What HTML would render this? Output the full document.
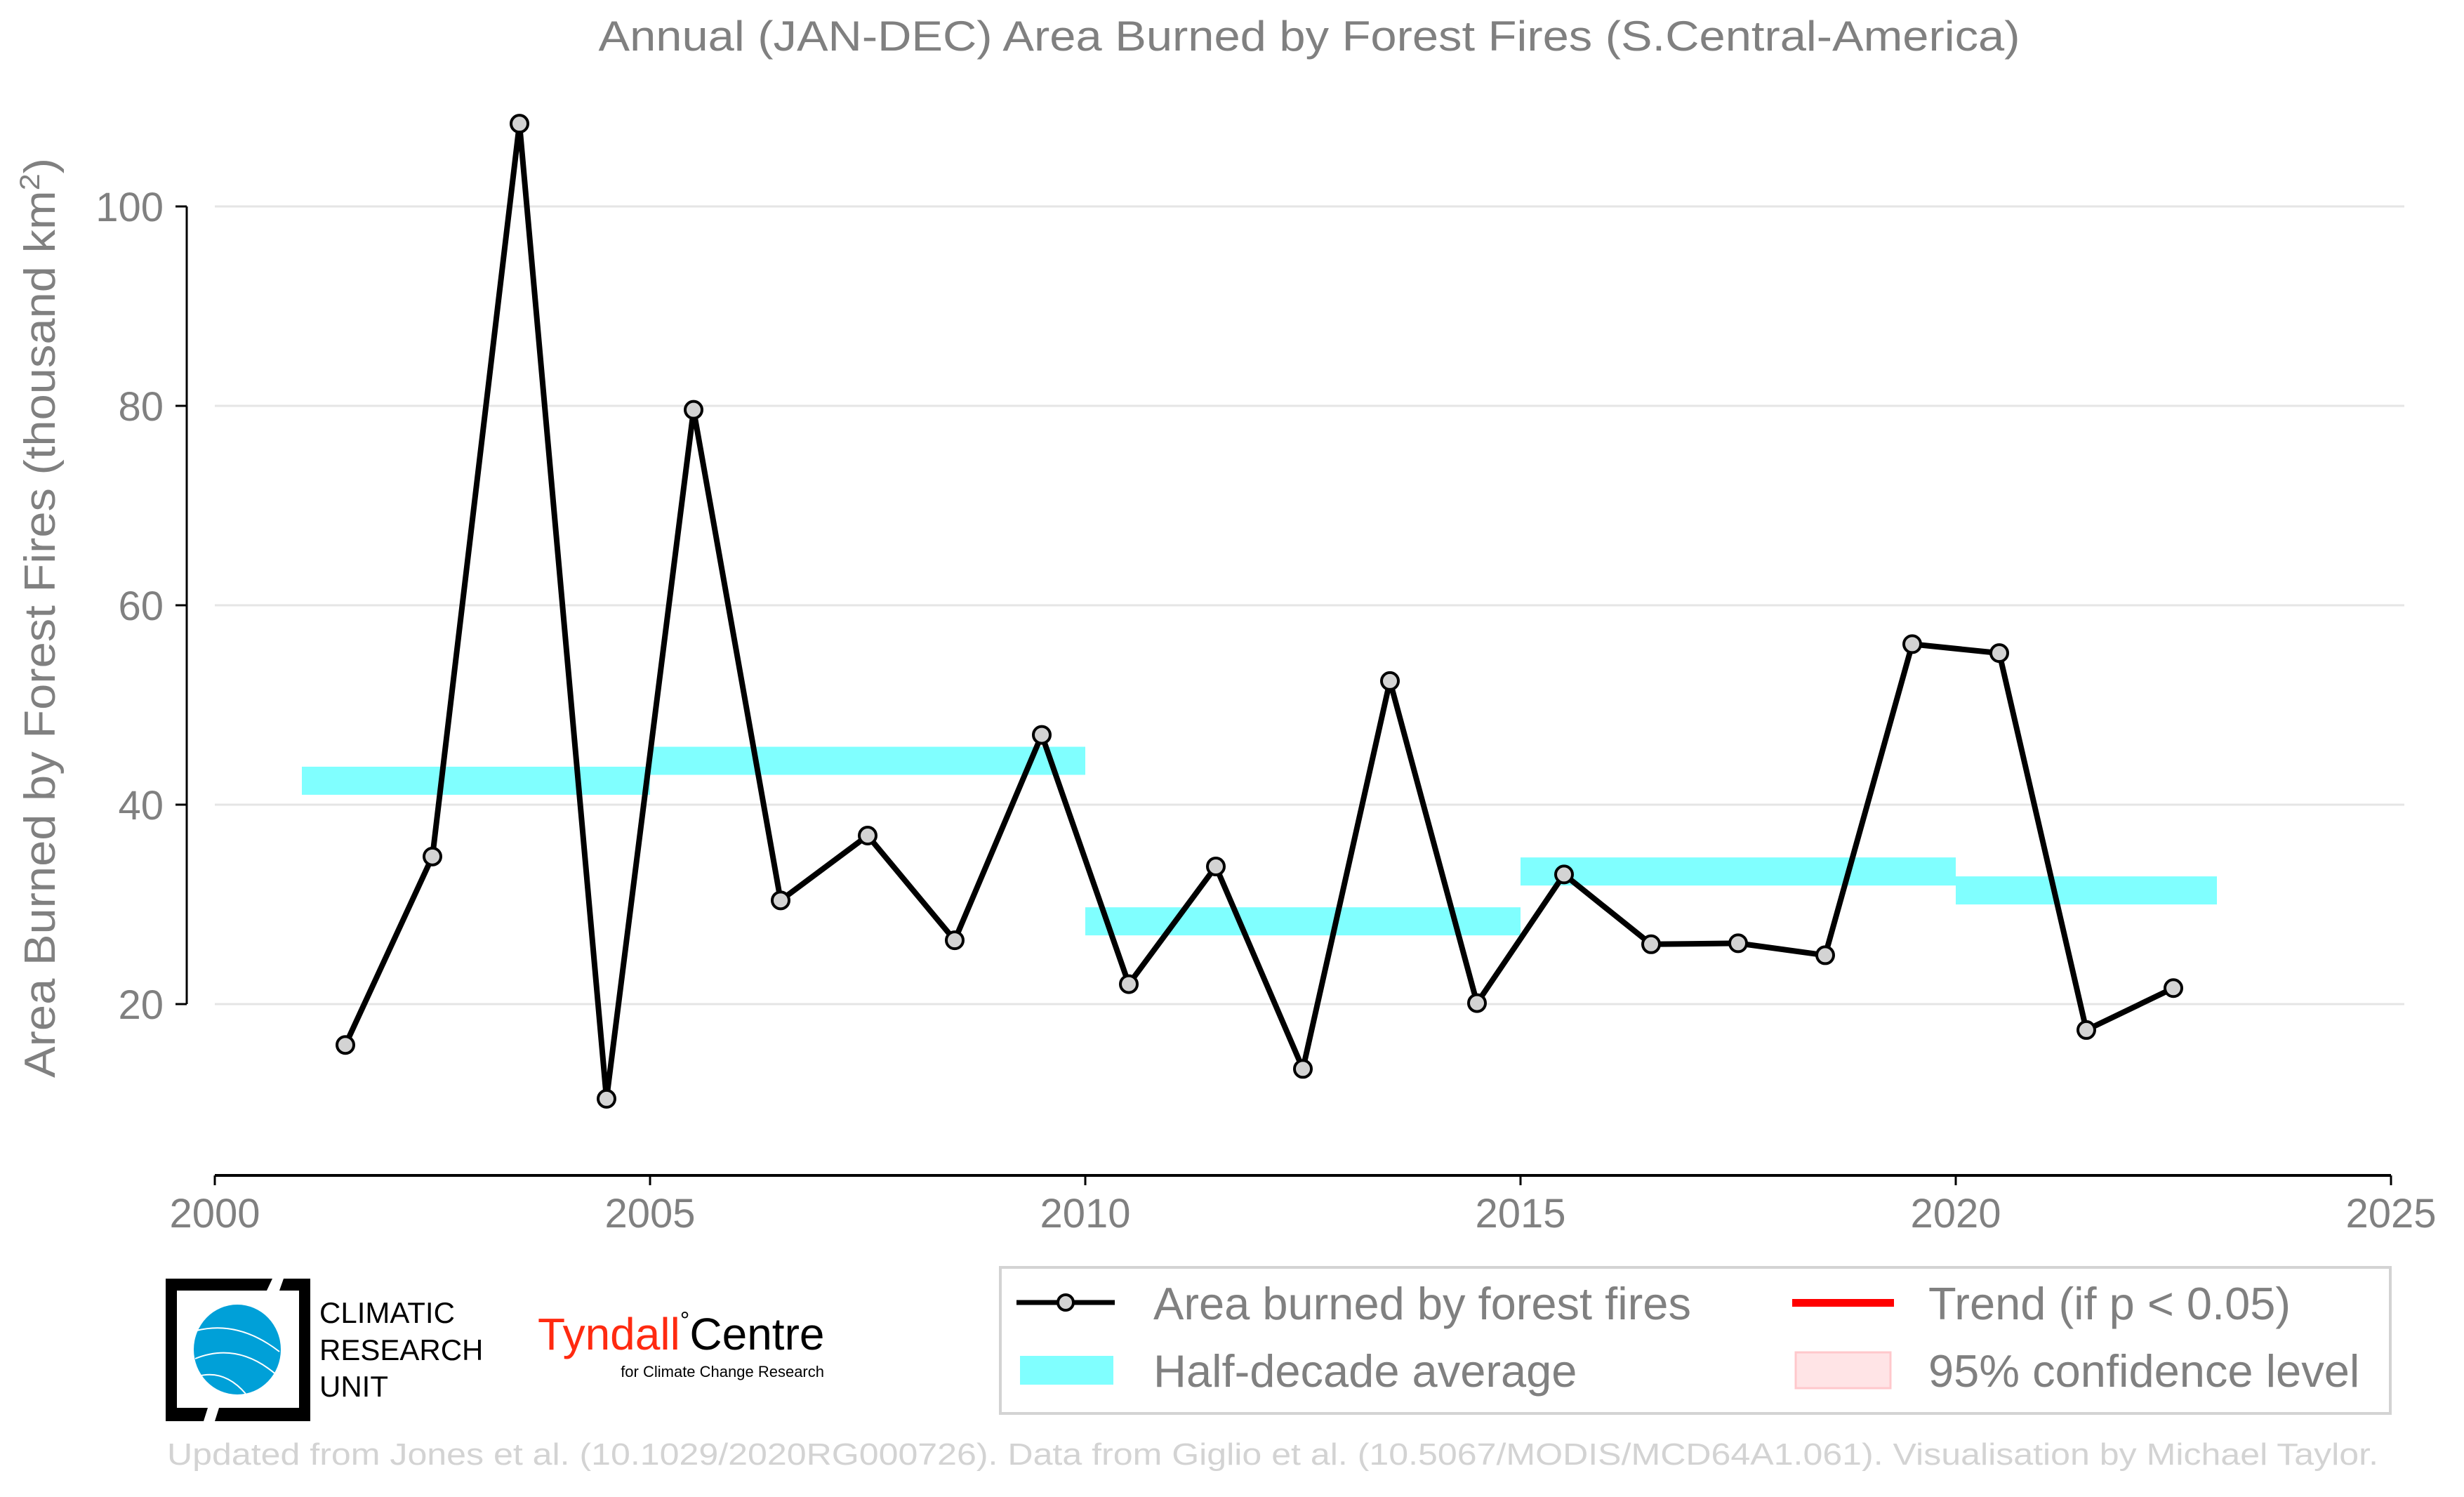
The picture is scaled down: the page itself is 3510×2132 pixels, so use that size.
<!DOCTYPE html>
<html><head><meta charset="utf-8"><style>
html,body{margin:0;padding:0;background:#fff;}
svg{display:block;font-family:"Liberation Sans",Arial,sans-serif;}
</style></head><body>
<svg id="chart" width="3510" height="2132" viewBox="0 0 3510 2132" xmlns="http://www.w3.org/2000/svg">
<text x="1865" y="72" text-anchor="middle" font-size="60" fill="#808080" textLength="2025" lengthAdjust="spacingAndGlyphs">Annual (JAN-DEC) Area Burned by Forest Fires (S.Central-America)</text>
<g id="grid"></g>
<g id="yaxis"></g>
<g id="xaxis"></g>
<text transform="translate(78,880) rotate(-90)" text-anchor="middle" font-size="62" fill="#808080" textLength="1310" lengthAdjust="spacingAndGlyphs">Area Burned by Forest Fires (thousand km<tspan dy="-22" font-size="40">2</tspan><tspan dy="22">)</tspan></text>
<g id="bars"></g>
<g id="series"></g>

<g>
<path d="M236,1821 H388 L380,1838 H252 V2005 H296 L290,2024 H236 Z" fill="#000"/>
<path d="M404,1821 H442 V2024 H306 L312,2005 H426 V1838 H398 Z" fill="#000"/>
<ellipse cx="338" cy="1922" rx="62" ry="64" fill="#00a0d8"/>
<path d="M280,1895 Q340,1880 398,1925 M278,1935 Q340,1910 396,1960 M282,1960 Q320,1950 350,1985" stroke="#fff" stroke-width="2" fill="none"/>
<text x="455" y="1884" font-size="42" fill="#000">CLIMATIC</text>
<text x="455" y="1937" font-size="42" fill="#000">RESEARCH</text>
<text x="455" y="1989" font-size="42" fill="#000">UNIT</text>
</g>
<g>
<text x="766" y="1922" font-size="64" fill="#ff2a10">Tyndall<tspan fill="#000" font-size="34" dy="-30">°</tspan><tspan fill="#000" dy="30">Centre</tspan></text>
<text x="1174" y="1961" text-anchor="end" font-size="22" fill="#000">for Climate Change Research</text>
</g>

<g>
<rect x="1425" y="1805" width="1980" height="208" fill="#fff" stroke="#d3d3d3" stroke-width="4"/>
<line x1="1448" y1="1855" x2="1588" y2="1855" stroke="#000" stroke-width="7"/>
<circle cx="1518" cy="1855" r="11" fill="#d3d3d3" stroke="#000" stroke-width="4"/>
<text x="1643" y="1879" font-size="65" fill="#808080">Area burned by forest fires</text>
<rect x="1453" y="1931" width="133" height="41" fill="#80ffff"/>
<text x="1643" y="1975" font-size="65" fill="#808080">Half-decade average</text>
<rect x="2553" y="1850" width="145" height="11" fill="#ff0000"/>
<text x="2747" y="1879" font-size="65" fill="#808080">Trend (if p &lt; 0.05)</text>
<rect x="2558" y="1926" width="135" height="51" fill="#ffe4e6" stroke="#ffc8cc" stroke-width="3"/>
<text x="2747" y="1975" font-size="65" fill="#808080">95% confidence level</text>
</g>
<text x="238" y="2086" font-size="44" fill="#d3d3d3" textLength="3150" lengthAdjust="spacingAndGlyphs">Updated from Jones et al. (10.1029/2020RG000726). Data from Giglio et al. (10.5067/MODIS/MCD64A1.061). Visualisation by Michael Taylor.</text>
</svg>
<script>
const years=[2001.5,2002.5,2003.5,2004.5,2005.5,2006.5,2007.5,2008.5,2009.5,2010.5,2011.5,2012.5,2013.5,2014.5,2015.5,2016.5,2017.5,2018.5,2019.5,2020.5,2021.5,2022.5];
const values=[15.9,34.8,108.3,10.5,79.6,30.4,36.9,26.4,47.0,22.0,33.8,13.5,52.4,20.1,33.0,26.0,26.1,24.9,56.1,55.2,17.4,21.6];
const barStarts=[2001,2005,2010,2015,2020];
const barEnds=[2005,2010,2015,2020,2023];
const barValues=[42.4,44.4,28.3,33.3,31.4];
const yTicks=[20,40,60,80,100];
const xTicks=[2000,2005,2010,2015,2020,2025];
const NS="http://www.w3.org/2000/svg";
const X=v=>306+(v-2000)*124;
const Y=v=>1430-(v-20)*14.2;
function mk(p,t,a){const e=document.createElementNS(NS,t);for(const k in a)e.setAttribute(k,a[k]);document.getElementById(p).appendChild(e);return e;}
yTicks.forEach(t=>{
 const g=mk('grid','line',{x1:306,x2:3425,y1:Y(t),y2:Y(t),stroke:'#e5e5e5','stroke-width':3});
 
 
 mk('yaxis','line',{x1:250,x2:266,y1:Y(t),y2:Y(t),stroke:'#000','stroke-width':3});
 const l=mk('yaxis','text',{x:233,y:Y(t)+21,'text-anchor':'end','font-size':58,fill:'#808080'});
 l.textContent=t;
 
 
});
mk('yaxis','line',{x1:266,x2:266,y1:Y(100),y2:Y(20),stroke:'#000','stroke-width':3});
mk('xaxis','line',{x1:X(2000),x2:X(2025),y1:1674,y2:1674,stroke:'#000','stroke-width':4});
xTicks.forEach(t=>{
 mk('xaxis','line',{x1:X(t),x2:X(t),y1:1674,y2:1688,stroke:'#000','stroke-width':3});
 const l=mk('xaxis','text',{x:X(t),y:1748,'text-anchor':'middle','font-size':58,fill:'#808080'});
 l.textContent=t;
 
 
});
barValues.forEach((v,i)=>{
 const r=mk('bars','rect',{x:X(barStarts[i]),width:X(barEnds[i])-X(barStarts[i]),y:Y(v)-20,height:40,fill:'#80ffff'});
 
 
});
const pl=mk('series','polyline',{points:years.map((y,i)=>X(y)+','+Y(values[i])).join(' '),fill:'none',stroke:'#000','stroke-width':8,'stroke-linejoin':'round'});


years.forEach((y,i)=>{
 const c=mk('series','circle',{cx:X(y),cy:Y(values[i]),r:12,fill:'#d3d3d3',stroke:'#000','stroke-width':4});
 
 
});
</script>
</body></html>
